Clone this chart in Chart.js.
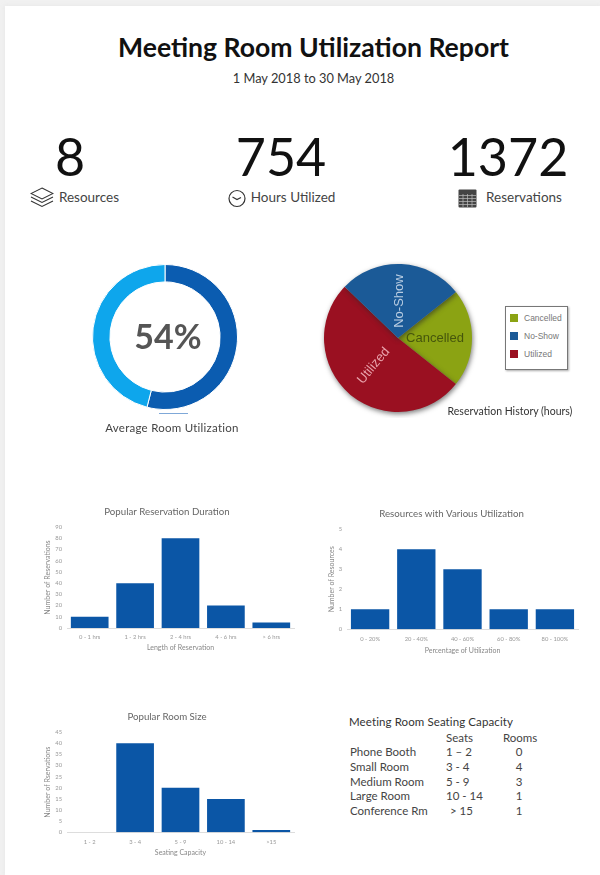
<!DOCTYPE html>
<html><head><meta charset="utf-8">
<script src="https://cdn.jsdelivr.net/npm/chart.js@4"></script>
<style>
html,body{margin:0;padding:0;background:#f1f1f1;}
#page{position:absolute;left:5px;top:6px;width:595px;height:869px;background:#fff;box-shadow:0 0 5px 1px #e9e9e9;}
#root{position:absolute;left:0;top:0;width:600px;height:875px;overflow:hidden;font-family:Lato,sans-serif;}
.t{position:absolute;white-space:nowrap;line-height:1;}
.c{transform:translate(-50%,-50%);}
.l{transform:translateY(-50%);}
canvas{position:absolute;}
svg{position:absolute;}
</style></head>
<body>
<div id="root"><div id="page"></div>
<svg style="left:30px;top:187px" width="24" height="21" viewBox="0 0 24 21" fill="none" stroke="#333" stroke-width="1.1"><path d="M12 1 L23 6.5 L12 12 L1 6.5Z"/><path d="M1 10 L12 15.5 L23 10"/><path d="M1 14 L12 19.5 L23 14"/></svg>
<svg style="left:228px;top:189px" width="18" height="19" viewBox="0 0 18 19" fill="none" stroke="#333" stroke-width="1.2"><circle cx="9" cy="9.5" r="8"/><path d="M4.5 8 L9 10.5 L13 8.5"/></svg>
<svg style="left:458px;top:188px" width="19" height="20" viewBox="0 0 19 20"><rect x="0.5" y="1.5" width="18" height="18" rx="1" fill="#444"/><path d="M1 7.5H18M1 10.5H18M1 13.5H18M1 16.5H18M5 6V19M9.5 6V19M14 6V19" stroke="#bbb" stroke-width="0.7"/></svg>
</div>
<script>
const summaryValues = ["8", "754", "1372"];
const summaryLabels = ["Resources", "Hours Utilized", "Reservations"];

const utilizationLabels = ["Utilized", "Unused"];
const utilizationValues = [54, 46];

const historyLabels = ["Cancelled", "Utilized", "No-Show"];
const historyValues = [21.4, 51.5, 27.1];

const durationLabels = ["0 - 1 hrs", "1 - 2 hrs", "2 - 4 hrs", "4 - 6 hrs", "> 6 hrs"];
const durationValues = [10, 40, 80, 20, 5];

const utilRangeLabels = ["0 - 20%", "20 - 40%", "40 - 60%", "60 - 80%", "80 - 100%"];
const utilRangeValues = [1, 4, 3, 1, 1];

const sizeLabels = ["1 - 2", "3 - 4", "5 - 9", "10 - 14", ">15"];
const sizeValues = [0, 40, 20, 15, 1];

const roomNames = ["Phone Booth", "Small Room", "Medium Room", "Large Room", "Conference Rm"];
const roomSeats = ["1 \u2013 2", "3 - 4", "5 - 9", "10 - 14", " > 15"];
const roomCounts = ["0", "4", "3", "1", "1"];

const root = document.getElementById('root');
function text(s, x, y, css, cls) {
  const d = document.createElement('div');
  d.className = 't ' + (cls || 'c');
  d.textContent = s;
  d.style.cssText = 'left:' + x + 'px;top:' + y + 'px;' + css;
  root.appendChild(d);
  return d;
}
function canvas(x, y, w, h) {
  const c = document.createElement('canvas');
  c.style.cssText = 'left:' + x + 'px;top:' + y + 'px;width:' + w + 'px;height:' + h + 'px;';
  c.width = w; c.height = h;
  root.appendChild(c);
  return c;
}
Chart.defaults.animation = false;
Chart.defaults.responsive = false;
Chart.defaults.font.family = 'Lato, sans-serif';

text('Meeting Room Utilization Report', 313.5, 47, 'font-size:26.6px;font-weight:700;color:#111;');
text('1 May 2018 to 30 May 2018', 313.5, 78, 'font-size:12.8px;color:#333;');
const numX = [70, 281, 508];
const labX = [89, 293, 524];
summaryValues.forEach((v, i) => {
  text(v, numX[i], 156, 'font-size:52px;color:#111;');
  text(summaryLabels[i], labX[i], 198, 'font-size:13.5px;color:#444;');
});

/* doughnut */
new Chart(canvas(85, 257, 160, 160), {
  type: 'doughnut',
  data: { labels: utilizationLabels, datasets: [{ data: utilizationValues, backgroundColor: ['#0b5cb0', '#0ea6ec'], borderColor: '#fff', borderWidth: 1 }] },
  options: { cutout: '76%', layout: { padding: 7 }, plugins: { legend: { display: false }, tooltip: { enabled: false } } }
});
text(utilizationValues[0] + '%', 168, 336, 'font-size:34px;font-weight:700;color:#555;');
const rule = document.createElement('div');
rule.style.cssText = 'position:absolute;left:159px;top:413px;width:29px;height:1px;background:#7fa8d8;';
root.appendChild(rule);
text('Average Room Utilization', 172, 428, 'font-size:11.5px;color:#444;letter-spacing:.25px;');

/* pie */
const pieLabelStyle = [
  { color: '#46560c', angle: 0, radial: 0.5 },
  { color: '#e9a3ac', angle: -50, radial: 0.5 },
  { color: '#b9cde2', angle: -90, radial: 0.5 }
];
const pieLabels = {
  id: 'pieLabels',
  beforeDatasetDraw(chart) {
    const c = chart.ctx; c.save();
    c.shadowColor = 'rgba(40,40,40,.6)'; c.shadowBlur = 5; c.shadowOffsetY = 2; c.shadowOffsetX = 1;
  },
  afterDatasetDraw(chart) { chart.ctx.restore(); },
  afterDatasetsDraw(chart) {
    const c = chart.ctx;
    chart.getDatasetMeta(0).data.forEach((arc, i) => {
      const p = arc.getProps(['x', 'y', 'startAngle', 'endAngle', 'outerRadius']);
      const mid = (p.startAngle + p.endAngle) / 2;
      const s = pieLabelStyle[i];
      c.save();
      c.translate(p.x + Math.cos(mid) * p.outerRadius * s.radial, p.y + Math.sin(mid) * p.outerRadius * s.radial);
      c.rotate(s.angle * Math.PI / 180);
      c.font = '13px "Liberation Sans", sans-serif';
      c.fillStyle = s.color; c.textAlign = 'center'; c.textBaseline = 'middle';
      c.fillText(chart.data.labels[i], 0, 0);
      c.restore();
    });
  }
};
new Chart(canvas(318, 258, 160, 160), {
  type: 'pie',
  data: { labels: historyLabels, datasets: [{ data: historyValues, backgroundColor: ['#8ba313', '#9a1021', '#1b5a97'], borderWidth: 0 }] },
  options: { rotation: 51.5, layout: { padding: 6 }, plugins: { legend: { display: false }, tooltip: { enabled: false } } },
  plugins: [pieLabels]
});
const lg = document.createElement('div');
lg.style.cssText = 'position:absolute;left:505px;top:306px;width:61px;height:62px;border:1px solid #777;box-shadow:1px 1px 2px #aaa;background:#fff;';
root.appendChild(lg);
[['Cancelled', '#8ba313'], ['No-Show', '#1b5a97'], ['Utilized', '#9a1021']].forEach((e, i) => {
  const y = 318 + i * 18;
  const sw = document.createElement('div');
  sw.style.cssText = 'position:absolute;left:510px;top:' + (y - 4) + 'px;width:8px;height:8px;background:' + e[1] + ';';
  root.appendChild(sw);
  text(e[0], 524, y, 'font-family:"Liberation Sans",sans-serif;font-size:8.5px;color:#777;', 'l');
});
text('Reservation History (hours)', 510, 411, 'font-size:10.5px;color:#333;');

/* bars */
function bar(box, title, xTitle, yTitle, labels, values, max, step, titlePad, axisH, axisW, yTitlePad, rightPad) {
  new Chart(canvas(box[0], box[1], box[2], box[3]), {
    type: 'bar',
    data: { labels, datasets: [{ data: values, backgroundColor: '#0b56a6', categoryPercentage: 0.83, barPercentage: 1 }] },
    options: {
      layout: { padding: { left: 0, right: rightPad, top: 0, bottom: 0 } },
      plugins: {
        legend: { display: false }, tooltip: { enabled: false },
        title: { display: true, text: title, color: '#666', font: { size: 9.7, weight: 'normal' }, padding: { top: titlePad[0], bottom: titlePad[1] } }
      },
      scales: {
        x: {
          grid: { display: false, drawTicks: false }, border: { color: '#ddd' },
          ticks: { color: '#999', font: { size: 5.8 }, padding: 6, maxRotation: 0, autoSkip: false },
          title: { display: true, text: xTitle, color: '#888', font: { size: 7 }, padding: { top: 3, bottom: 0 } },
          afterFit(s) { s.height = axisH; }
        },
        y: {
          min: 0, max,
          grid: { display: false, drawTicks: false }, border: { display: false },
          ticks: { color: '#999', font: { size: 5.8 }, stepSize: step, padding: 5 },
          title: { display: true, text: yTitle, color: '#888', font: { size: 7 }, padding: { top: yTitlePad, bottom: 0 } },
          afterFit(s) { s.width = axisW; }
        }
      }
    }
  });
}
bar([40, 495, 256, 157], 'Popular Reservation Duration', 'Length of Reservation', 'Number of Reservations', durationLabels, durationValues, 90, 10, [11, 9.4], 24, 27, 4, 2);
bar([325, 495, 254, 160], 'Resources with Various Utilization', 'Percentage of Utilization', 'Number of Resources', utilRangeLabels, utilRangeValues, 5, 1, [13, 9.6], 25.7, 22, 3, 1);
bar([40, 700, 256, 157], 'Popular Room Size', 'Seating Capacity', 'Number of Rservations', sizeLabels, sizeValues, 45, 5, [11.5, 9], 24.7, 27, 4, 2);

/* table */
const tb = 'font-size:11.5px;color:#444;';
text('Meeting Room Seating Capacity', 349, 722, 'font-size:11.5px;color:#333;letter-spacing:.1px;', 'l');
text('Seats', 446, 738, tb, 'l');
text('Rooms', 503, 738, tb, 'l');
roomNames.forEach((n, i) => {
  const y = 752 + i * 14.8;
  text(n, 350, y, tb, 'l');
  text(roomSeats[i], i === 4 ? 450 : 446, y, tb, 'l');
  text(roomCounts[i], 519, y, tb);
});
</script>
</body></html>
